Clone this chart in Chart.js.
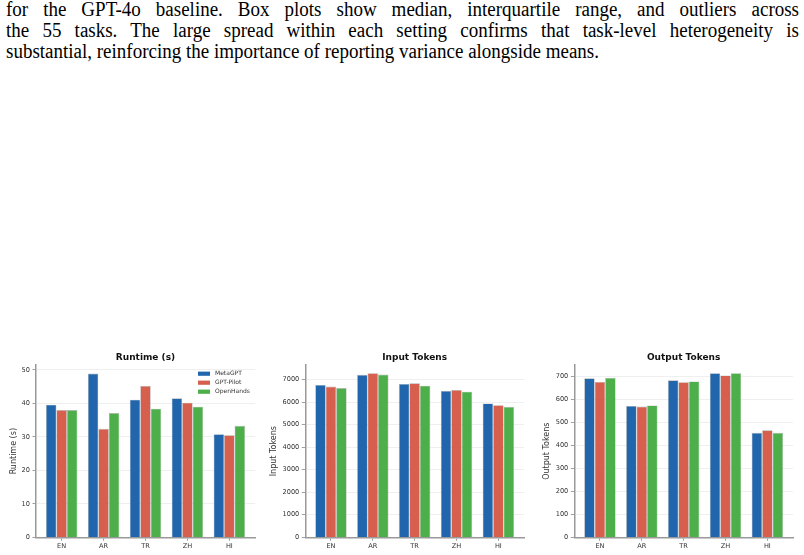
<!DOCTYPE html>
<html>
<head>
  <meta charset="utf-8">
  <script src="https://cdn.jsdelivr.net/npm/chart.js"></script>
  <style>
    body { margin:0; width:804px; height:555px; background:#fff; position:relative; overflow:hidden; }
    #para { position:absolute; left:6px; top:-1px; font-family:"Liberation Serif", serif; font-size:20px; line-height:21px; color:#000; }
    #para .ln { white-space:nowrap; height:21px; }
    #para .ln span { display:inline-block; transform-origin:0 0; }
    .panel { position:absolute; top:345px; width:268px; height:210px; }
  </style>
</head>
<body>
  <div id="para">
    <div class="ln"><span data-w="793">for the GPT-4o baseline. Box plots show median, interquartile range, and outliers across</span></div>
    <div class="ln"><span data-w="793">the 55 tasks. The large spread within each setting confirms that task-level heterogeneity is</span></div>
    <div class="ln"><span>substantial, reinforcing the importance of reporting variance alongside means.</span></div>
  </div>
  <div class="panel" style="left:0px"><canvas id="runtimeChart" width="268" height="210"></canvas></div>
  <div class="panel" style="left:268px"><canvas id="inputChart" width="268" height="210"></canvas></div>
  <div class="panel" style="left:536px"><canvas id="outputChart" width="268" height="210"></canvas></div>
<script>
"use strict";
const langs = ['EN', 'AR', 'TR', 'ZH', 'HI'];
const systems = ['MetaGPT', 'GPT-Pilot', 'OpenHands'];
const colors = ['#2166ac', '#d6604d', '#4daf4a'];

const runtimeMeta = [39.6, 48.9, 41.1, 41.5, 30.8];
const runtimePilot = [38.0, 32.4, 45.2, 40.2, 30.5];
const runtimeOH = [38.0, 37.1, 38.4, 39.0, 33.3];

const inputMeta = [6760, 7210, 6805, 6495, 5940];
const inputPilot = [6690, 7285, 6835, 6535, 5865];
const inputOH = [6625, 7225, 6730, 6465, 5790];

const outputMeta = [691, 571, 682, 713, 454];
const outputPilot = [675, 568, 674, 703, 465];
const outputOH = [693, 573, 677, 713, 454];

// the paragraph font is a bit narrower than Times; full lines are justified
const squeeze = 0.95;
document.querySelectorAll('#para span').forEach(function(s) {
  if (s.dataset.w) {
    const w = s.getBoundingClientRect().width;
    const gaps = s.textContent.split(' ').length - 1;
    s.style.wordSpacing = ((Number(s.dataset.w) / squeeze - w) / gaps) + 'px';
  }
  s.style.transform = 'scaleX(' + squeeze + ')';
});

Chart.defaults.font.family = '"DejaVu Sans", sans-serif';
Chart.defaults.color = '#333';

// title over the plot area and the small legend in the corner
const panelDecor = {
  id: 'panelDecor',
  afterDraw(chart, args, opts) {
    const {ctx, chartArea} = chart;
    ctx.save();
    ctx.fillStyle = '#111';
    ctx.font = 'bold 9px "DejaVu Sans"';
    ctx.textAlign = 'center';
    ctx.textBaseline = 'middle';
    ctx.fillText(opts.title, (chartArea.left + chartArea.right) / 2, chartArea.top - 7.7);
    if (opts.legend) {
      ctx.font = '6px "DejaVu Sans"';
      ctx.textAlign = 'left';
      chart.data.datasets.forEach(function(ds, k) {
        const y = chartArea.top + 8.7 + k * 9;
        const x = chartArea.right - 57;
        ctx.fillStyle = ds.backgroundColor;
        ctx.fillRect(x, y - 2.1, 12, 4.2);
        ctx.fillStyle = '#333';
        ctx.fillText(ds.label, x + 17, y);
      });
    }
    ctx.restore();
  }
};

const makePanel = function(id, title, yLabel, series, yMax, step, axisW, padRight, titlePad, legend) {
  return new Chart(document.getElementById(id), {
    type: 'bar',
    data: {
      datasets: series.map(function(vals, k) {
        return {
          label: systems[k],
          data: vals.map(function(v, i) { return {x: i, y: v}; }),
          backgroundColor: colors[k],
          borderColor: 'rgba(110,110,110,0.55)',
          borderWidth: 0.6,
          categoryPercentage: 0.75,
          barPercentage: 1.0
        };
      })
    },
    options: {
      responsive: false,
      animation: false,
      devicePixelRatio: 1,
      layout: { padding: { top: 20, right: padRight, bottom: 0, left: 0 } },
      plugins: {
        legend: { display: false },
        tooltip: { enabled: false },
        panelDecor: { title: title, legend: legend }
      },
      scales: {
        x: {
          type: 'linear',
          min: -0.6125,
          max: 4.6125,
          offset: false,
          afterBuildTicks: function(s) { s.ticks = langs.map(function(_, i) { return {value: i}; }); },
          afterFit: function(s) { s.height = 17.7; },
          ticks: { callback: function(v) { return langs[v]; }, font: { size: 6.6 }, padding: 1.5, autoSkip: false, maxRotation: 0 },
          grid: { offset: false, drawOnChartArea: false, tickLength: 3.5, tickColor: '#888', tickWidth: 0.8 },
          border: { color: '#999', width: 1.5 }
        },
        y: {
          min: 0,
          max: yMax,
          afterBuildTicks: function(s) {
            const ticks = [];
            for (let v = 0; v <= yMax; v += step) ticks.push({value: v});
            s.ticks = ticks;
          },
          afterFit: function(s) { s.width = axisW; },
          ticks: { callback: function(v) { return String(v); }, font: { size: 6.6 }, padding: 2.5, autoSkip: false },
          grid: { color: '#ebebeb', lineWidth: 0.8, tickLength: 3.5, tickColor: '#888', tickWidth: 0.8 },
          border: { color: '#999', width: 1.5 },
          title: { display: true, text: yLabel, font: { size: 8 }, color: '#333', padding: { top: titlePad, bottom: 0 } }
        }
      }
    },
    plugins: [panelDecor]
  });
};

makePanel('runtimeChart', 'Runtime (s)', 'Runtime (s)', [runtimeMeta, runtimePilot, runtimeOH], 51.45, 10, 36, 13, 9.2, true);
makePanel('inputChart', 'Input Tokens', 'Input Tokens', [inputMeta, inputPilot, inputOH], 7648, 1000, 37.3, 12, 1.2, false);
makePanel('outputChart', 'Output Tokens', 'Output Tokens', [outputMeta, outputPilot, outputOH], 748.7, 100, 38.3, 11, 6.5, false);
</script>
</body>
</html>
